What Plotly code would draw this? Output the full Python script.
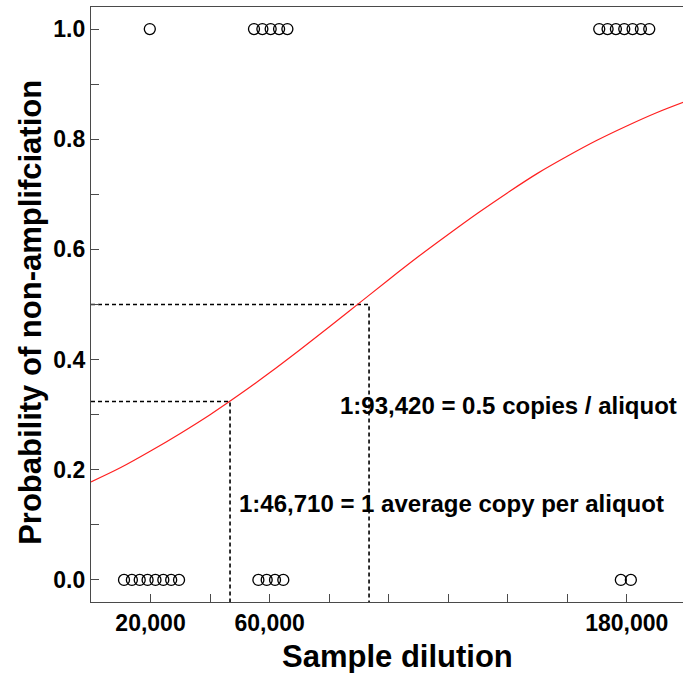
import plotly.graph_objects as go

# Replicate wells at three sample dilutions, jittered sideways so they don't overlap.
# outcome: 1 = no amplification, 0 = amplified
well_dilution = [19760, 54760, 57580, 60370, 63190, 65980,
                 170760, 173560, 176360, 179160, 181960, 184760, 187560,
                 11090, 13730, 16370, 19010, 21660, 24300, 26940, 29580,
                 56240, 59030, 61820, 64610,
                 178020, 181380]
well_outcome = [1, 1, 1, 1, 1, 1,
                1, 1, 1, 1, 1, 1, 1,
                0, 0, 0, 0, 0, 0, 0, 0,
                0, 0, 0, 0,
                0, 0]

# Fitted probability of non-amplification
curve_dilution = [0, 10000, 20000, 30000, 40000, 50000, 60000, 70000, 80000, 90000,
                  100000, 110000, 120000, 130000, 140000, 150000, 160000, 170000,
                  180000, 190000, 200000]
curve_prob = [0.178, 0.204, 0.234, 0.266, 0.300, 0.337, 0.376, 0.417, 0.459, 0.502,
              0.545, 0.587, 0.627, 0.666, 0.703, 0.738, 0.769, 0.798, 0.824, 0.848, 0.869]

# Reference dilutions and the probabilities they are read at
ref_dilution = [46710, 93420]
ref_prob = [0.324, 0.5]
ref_text = ["1:46,710 = 1 average copy per aliquot", "1:93,420 = 0.5 copies / aliquot"]

# Axis ticks
x_tickvals = [20000, 40000, 60000, 80000, 100000, 120000, 140000, 160000, 180000]
x_ticktext = ["20,000", "", "60,000", "", "", "", "", "", "180,000"]
y_tickvals = [0.0, 0.1, 0.2, 0.3, 0.4, 0.5, 0.6, 0.7, 0.8, 0.9, 1.0]
y_ticktext = ["0.0", "", "0.2", "", "0.4", "", "0.6", "", "0.8", "", "1.0"]

X_RANGE = [0, 198900]
Y_RANGE = [-0.04, 1.04]
FONT = "Liberation Sans, Arial, sans-serif"
AXIS_COLOR = "#4a4a4a"

fig = go.Figure()

# dashed guide lines: horizontal from the y axis, vertical down to the x axis
for xd, yp in zip(ref_dilution, ref_prob):
    fig.add_trace(go.Scatter(
        x=[X_RANGE[0], xd, xd], y=[yp, yp, Y_RANGE[0]],
        mode="lines", line=dict(color="black", width=1.6, dash="4px,3px"),
        hoverinfo="skip", showlegend=False, cliponaxis=False))

fig.add_trace(go.Scatter(
    x=curve_dilution, y=curve_prob, mode="lines",
    line=dict(color="#ff2020", width=1.2, shape="spline"),
    showlegend=False))

fig.add_trace(go.Scatter(
    x=well_dilution, y=well_outcome, mode="markers",
    marker=dict(symbol="circle-open", size=11, color="black", line=dict(width=1.3)),
    showlegend=False, cliponaxis=False))

# labels for the two reference dilutions
label_pos = [(48900, 0.139), (82900, 0.317)]
for (lx, ly), txt in zip(label_pos, ref_text):
    fig.add_annotation(x=lx, y=ly, text=txt, showarrow=False,
                       xanchor="left", yanchor="middle",
                       font=dict(family=FONT, size=24, color="black", weight="bold"))

title_font = dict(family=FONT, size=31, color="black", weight="bold")

# axis titles, placed relative to the plotting area
fig.add_annotation(x=0.517, y=-0.0924, xref="paper", yref="paper",
                   text="Sample dilution", showarrow=False,
                   xanchor="center", yanchor="middle", font=title_font)
fig.add_annotation(x=-0.102, y=0.487, xref="paper", yref="paper",
                   text="Probability of non-amplifciation", showarrow=False,
                   textangle=-90, xanchor="center", yanchor="middle", font=title_font)

fig.update_layout(
    width=683, height=673,
    margin=dict(l=91, r=0, t=7, b=71),
    plot_bgcolor="white", paper_bgcolor="white",
    font=dict(family=FONT, color="black"),
    xaxis=dict(
        range=X_RANGE, tickvals=x_tickvals, ticktext=x_ticktext,
        ticks="inside", ticklen=8, tickwidth=1, tickcolor=AXIS_COLOR,
        showline=True, linecolor=AXIS_COLOR, linewidth=1.3, mirror=True,
        showgrid=False, zeroline=False,
        tickfont=dict(family=FONT, size=23, color="black", weight="bold"),
    ),
    yaxis=dict(
        range=Y_RANGE, tickvals=y_tickvals, ticktext=y_ticktext,
        ticks="inside", ticklen=8, tickwidth=1, tickcolor=AXIS_COLOR,
        showline=True, linecolor=AXIS_COLOR, linewidth=1.3,
        showgrid=False, zeroline=False,
        tickfont=dict(family=FONT, size=23, color="black", weight="bold"),
    ),
)

fig.write_html("out.html")
